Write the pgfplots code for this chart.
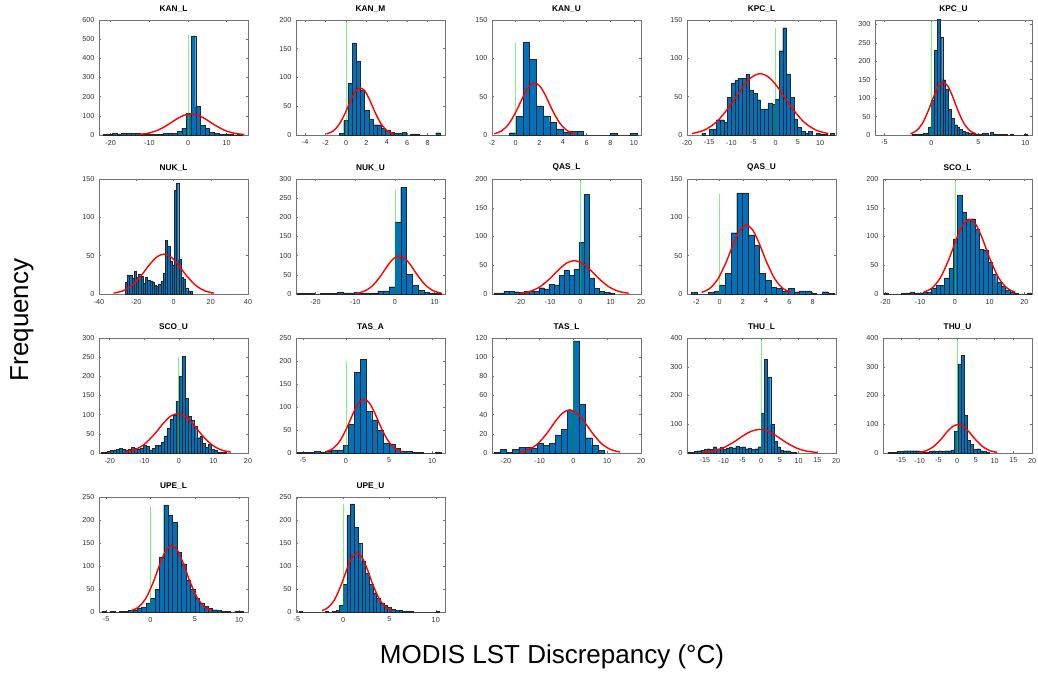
\documentclass[border=0pt]{standalone}
\usepackage{pgfplots}
\pgfplotsset{compat=1.18}
\usepackage{fontspec}
\setmainfont{Liberation Sans}
\definecolor{mblue}{RGB}{0,114,189}
\pgfplotsset{
  hist/.style={
    width=149pt, height=115pt, scale only axis, anchor=south west,
    ymin=0, enlargelimits=false,
    tick align=inside, xtick pos=both, ytick pos=both,
    major tick length=2pt,
    axis line style={black!55, line width=0.5pt},
    every tick/.style={black!55, line width=0.5pt},
    ticklabel style={font=\fontsize{7.2}{8}\selectfont, text=black!80},
    xticklabel style={yshift=-1.5pt},
    yticklabel style={xshift=-1pt},
    /pgf/number format/assume math mode=true,
    scaled ticks=false,
    title style={font=\fontsize{8.3}{9}\selectfont\bfseries, inner sep=1.5pt},
  },
  bars/.style={ybar interval, fill=mblue, draw=black!85, line width=0.3pt},
  fit/.style={red, line width=1.4pt, smooth},
  zero/.style={draw={rgb,255:red,0;green,230;blue,0}, opacity=0.5, line width=0.8pt},
}
\begin{document}
\begin{tikzpicture}
\path[use as bounding box] (0pt,0pt) rectangle (1038pt,-674pt);

% row 1
\begin{axis}[hist, at={(99pt,-135pt)}, title={KAN\_L}, xmin=-23, xmax=15.5, ymax=600,
  xtick={-20,-10,0,10}, ytick={0,100,...,600}]
\addplot[bars] coordinates {(-22.02,3)(-20.82,5)(-19.62,10)(-18.42,5)(-17.22,10)(-16.02,8)(-14.82,8)(-13.62,8)(-12.42,3)(-11.22,2)(-10.02,2)(-8.82,3)(-7.62,5)(-6.42,8)(-5.22,8)(-4.02,8)(-2.82,18)(-1.62,35)(-0.42,115)(0.78,517)(1.98,150)(3.18,50)(4.38,35)(5.58,15)(6.78,10)(7.98,5)(9.18,3)(10.38,2)(11.58,1)(12.78,3)(13.98,0)};
\addplot[zero] coordinates {(0,0)(0,520)};
\addplot[fit] coordinates {(-12.95,2.5)(-10.45,8.8)(-7.95,23.8)(-5.45,50.4)(-2.95,83.0)(-1.075,102.5)(0.8,110)(2.675,102.5)(4.55,83.0)(7.05,50.4)(9.55,23.8)(12.05,8.8)(14.55,2.5)};
\end{axis}

\begin{axis}[hist, at={(296pt,-135pt)}, title={KAN\_M}, xmin=-4.9, xmax=9.7, ymax=200,
  xtick={-4,-2,...,8}, ytick={0,50,...,200}]
\addplot[bars] coordinates {(-0.64,3)(-0.23,25)(0.18,90)(0.59,160)(1.00,128)(1.41,78)(1.82,43)(2.23,28)(2.64,18)(3.05,18)(3.46,12)(3.87,8)(4.28,5)(4.69,3)(5.10,3)(5.51,5)(5.92,0)(6.33,2)(6.74,2)(7.15,0)(7.56,0)(7.97,0)(8.38,0)(8.79,4)(9.20,0)};
\addplot[zero] coordinates {(0,0)(0,200)};
\addplot[fit] coordinates {(-1.9,1.9)(-1.3,6.5)(-0.7,17.7)(-0.1,37.5)(0.5,61.9)(0.95,76.4)(1.4,82)(1.85,76.4)(2.3,61.9)(2.9,37.5)(3.5,17.7)(4.1,6.5)(4.7,1.9)};
\end{axis}

\begin{axis}[hist, at={(492pt,-135pt)}, title={KAN\_U}, xmin=-2, xmax=10.6, ymax=150,
  xtick={-2,0,...,10}, ytick={0,50,100,150}]
\addplot[bars] coordinates {(-0.53,3)(0.03,24)(0.60,121)(1.17,99)(1.74,38)(2.31,25)(2.88,17)(3.45,8)(4.02,4)(4.59,5)(5.16,5)(5.73,0)(6.30,0)(6.87,0)(7.44,0)(8.01,2)(8.58,0)(9.15,0)(9.72,2)(10.29,0)};
\addplot[zero] coordinates {(0,0)(0,120)};
\addplot[fit] coordinates {(-1.81,1.55)(-1.19,5.4)(-0.57,14.7)(0.05,31.1)(0.67,51.3)(1.135,63.4)(1.6,68)(2.065,63.4)(2.53,51.3)(3.15,31.1)(3.77,14.7)(4.39,5.4)(5.01,1.55)};
\end{axis}

\begin{axis}[hist, at={(687pt,-135pt)}, title={KPC\_L}, xmin=-20, xmax=13.6, ymax=150,
  xtick={-20,-15,...,10}, ytick={0,50,100,150}]
\addplot[bars] coordinates {(-16.68,2)(-15.85,0)(-15.02,8)(-14.19,8)(-13.36,20)(-12.53,20)(-11.70,17)(-10.87,49)(-10.04,68)(-9.21,72)(-8.38,74)(-7.55,74)(-6.72,79)(-5.89,58)(-5.06,54)(-4.23,46)(-3.40,34)(-2.57,34)(-1.74,42)(-0.91,40)(-0.08,47)(0.75,110)(1.58,140)(2.41,79)(3.24,49)(4.07,21)(4.90,10)(5.73,5)(6.56,2)(7.39,5)(8.22,0)(9.05,2)(9.88,1)(10.71,1)(11.54,0)(12.37,2)(13.20,0)};
\addplot[zero] coordinates {(0,0)(0,140)};
\addplot[fit] coordinates {(-18.9,1.8)(-16.1,6.4)(-13.3,17.3)(-10.5,36.6)(-7.7,60.4)(-5.6,74.6)(-3.5,80)(-1.4,74.6)(0.7,60.4)(3.5,36.6)(6.3,17.3)(9.1,6.4)(11.9,1.8)};
\end{axis}

\begin{axis}[hist, at={(875pt,-135pt)}, width=157pt, title={KPC\_U}, xmin=-6, xmax=10.7, ymax=312,
  xtick={-5,0,5,10}, ytick={0,50,...,300}]
\addplot[bars] coordinates {(-2.1,1)(-1.8,2)(-1.5,3)(-1.2,3)(-0.9,4)(-0.6,5)(-0.3,22)(0,95)(0.3,230)(0.6,315)(0.9,265)(1.2,150)(1.5,125)(1.8,70)(2.1,45)(2.4,28)(2.7,22)(3.0,15)(3.3,10)(3.6,8)(3.9,6)(4.2,5)(4.5,3)(4.8,3)(5.1,2)(5.4,5)(5.7,5)(6.0,0)(6.3,8)(6.6,3)(6.9,2)(7.2,2)(7.5,2)(7.8,1)(8.1,0)(8.4,3)(8.7,0)(9.0,0)(9.3,0)(9.6,0)(9.9,2)(10.2,0)};
\addplot[zero] coordinates {(0,0)(0,312)};
\addplot[fit] coordinates {(-2.24,3.3)(-1.61,11.4)(-0.97,30.9)(-0.34,65.5)(0.30,107.9)(0.77,133.3)(1.25,143)(1.73,133.3)(2.20,107.9)(2.84,65.5)(3.47,30.9)(4.11,11.4)(4.74,3.3)};
\end{axis}

% row 2
\begin{axis}[hist, at={(99pt,-294pt)}, title={NUK\_L}, xmin=-40, xmax=40, ymax=150,
  xtick={-40,-20,...,40}, ytick={0,50,100,150}]
\addplot[bars] coordinates {(-26.0,15)(-24.8,25)(-23.6,24)(-22.4,21)(-21.2,30)(-20.0,22)(-18.8,26)(-17.6,23)(-16.4,14)(-15.2,22)(-14.0,18)(-12.8,17)(-11.6,16)(-10.4,11)(-9.2,10)(-8.0,13)(-6.8,17)(-5.6,27)(-4.4,70)(-3.2,62)(-2.0,43)(-0.8,38)(0.4,135)(1.6,145)(2.8,45)(4.0,22)(5.2,20)(6.4,8)(7.6,4)(8.8,4)(10.0,0)};
\addplot[fit] coordinates {(-32.15,1.2)(-27.25,4.1)(-22.35,11.2)(-17.45,23.8)(-12.55,39.2)(-8.875,48.5)(-5.2,52)(-1.525,48.5)(2.15,39.2)(7.05,23.8)(11.95,11.2)(16.85,4.1)(21.75,1.2)};
\end{axis}

\begin{axis}[hist, at={(296pt,-294pt)}, title={NUK\_U}, xmin=-24.9, xmax=12.6, ymax=300,
  xtick={-20,-10,0,10}, ytick={0,50,...,300}]
\addplot[bars] coordinates {(-24.65,2)(-23.2,2)(-21.75,2)(-20.3,0)(-18.85,2)(-17.4,2)(-15.95,2)(-14.5,5)(-13.05,3)(-11.6,3)(-10.15,4)(-8.7,3)(-7.25,3)(-5.8,3)(-4.35,8)(-2.9,8)(-1.45,19)(0,188)(1.45,278)(2.9,52)(4.35,22)(5.8,10)(7.25,5)(8.7,3)(10.15,1)(11.6,0)};
\addplot[zero] coordinates {(0,0)(0,275)};
\addplot[fit] coordinates {(-9.5,2.3)(-7.59,7.9)(-5.66,21.4)(-3.73,45.3)(-1.8,74.7)(-0.35,92.3)(1.1,99)(2.55,92.3)(4.0,74.7)(5.93,45.3)(7.86,21.4)(9.79,7.9)(11.7,2.3)};
\end{axis}

\begin{axis}[hist, at={(492pt,-294pt)}, title={QAS\_L}, xmin=-29.2, xmax=20, ymax=200,
  xtick={-20,-10,...,20}, ytick={0,50,...,200}]
\addplot[bars] coordinates {(-28.6,2)(-26.95,2)(-25.3,5)(-23.65,5)(-22.0,4)(-20.35,3)(-18.7,5)(-17.05,5)(-15.4,5)(-13.75,11)(-12.1,9)(-10.45,17)(-8.8,16)(-7.15,33)(-5.5,42)(-3.85,32)(-2.2,43)(-0.55,90)(1.1,173)(2.75,28)(4.4,10)(6.05,5)(7.7,3)(9.35,2)(11.0,0)};
\addplot[zero] coordinates {(0,0)(0,200)};
\addplot[fit] coordinates {(-19.9,1.3)(-16.63,4.6)(-13.38,12.5)(-10.13,26.6)(-6.88,43.8)(-4.44,54.1)(-2.0,58)(0.44,54.1)(2.88,43.8)(6.13,26.6)(9.38,12.5)(12.63,4.6)(15.9,1.3)};
\end{axis}

\begin{axis}[hist, at={(687pt,-294pt)}, title={QAS\_U}, xmin=-2.8, xmax=10, ymax=150,
  xtick={-2,0,...,8}, ytick={0,50,100,150}]
\addplot[bars] coordinates {(-2.45,2)(-1.96,0)(-1.47,0)(-0.98,2)(-0.49,4)(0,12)(0.49,27)(0.98,80)(1.47,132)(1.96,132)(2.45,77)(2.94,64)(3.43,27)(3.92,18)(4.41,9)(4.9,7)(5.39,4)(5.88,7)(6.37,3)(6.86,4)(7.35,4)(7.84,1)(8.33,0)(8.82,3)(9.31,1)(9.8,0)};
\addplot[zero] coordinates {(0,0)(0,130)};
\addplot[fit] coordinates {(-1.55,2.1)(-0.85,7.2)(-0.15,19.5)(0.55,41.2)(1.25,67.9)(1.775,83.9)(2.3,90)(2.825,83.9)(3.35,67.9)(4.05,41.2)(4.75,19.5)(5.45,7.2)(6.15,2.1)};
\end{axis}

\begin{axis}[hist, at={(883pt,-294pt)}, title={SCO\_L}, xmin=-20.7, xmax=22.2, ymax=200,
  xtick={-20,-10,...,20}, ytick={0,50,...,200}]
\addplot[bars] coordinates {(-20.48,2)(-19.23,0)(-17.98,0)(-16.73,0)(-15.48,2)(-14.23,2)(-12.98,3)(-11.73,2)(-10.48,2)(-9.23,3)(-7.98,3)(-6.73,10)(-5.48,15)(-4.23,15)(-2.98,28)(-1.73,45)(-0.48,96)(0.77,172)(2.02,143)(3.27,130)(4.52,131)(5.77,113)(7.02,78)(8.27,77)(9.52,55)(10.77,35)(12.02,20)(13.27,13)(14.52,7)(15.77,4)(17.02,2)(18.27,0)(19.52,0)(20.77,2)(22.02,0)};
\addplot[zero] coordinates {(0,0)(0,200)};
\addplot[fit] coordinates {(-9.0,3.0)(-6.6,10.3)(-4.2,28.1)(-1.8,59.5)(0.6,98.1)(2.4,121.2)(4.2,130)(6.0,121.2)(7.8,98.1)(10.2,59.5)(12.6,28.1)(15.0,10.3)(17.4,3.0)};
\end{axis}

% row 3
\begin{axis}[hist, at={(99pt,-453pt)}, title={SCO\_U}, xmin=-23.1, xmax=20, ymax=300,
  xtick={-20,-10,...,20}, ytick={0,50,...,300}]
\addplot[bars] coordinates {(-22.36,1)(-21.5,3)(-20.64,4)(-19.78,7)(-18.92,8)(-18.06,10)(-17.2,12)(-16.34,10)(-15.48,8)(-14.62,10)(-13.76,15)(-12.9,12)(-12.04,10)(-11.18,12)(-10.32,20)(-9.46,18)(-8.6,8)(-7.74,13)(-6.88,20)(-6.02,20)(-5.16,28)(-4.3,45)(-3.44,65)(-2.58,88)(-1.72,100)(-0.86,135)(0,200)(0.86,253)(1.72,142)(2.58,95)(3.44,85)(4.3,70)(5.16,40)(6.02,43)(6.88,25)(7.74,15)(8.6,22)(9.46,10)(10.32,8)(11.18,3)(12.04,2)(12.9,1)(13.76,0)};
\addplot[zero] coordinates {(0,0)(0,250)};
\addplot[fit] coordinates {(-15.59,2.3)(-12.81,8.2)(-10.03,22.3)(-7.25,47.2)(-4.47,77.7)(-2.385,96.0)(-0.3,103)(1.785,96.0)(3.87,77.7)(6.65,47.2)(9.43,22.3)(12.21,8.2)(14.99,2.3)};
\end{axis}

\begin{axis}[hist, at={(296pt,-453pt)}, title={TAS\_A}, xmin=-5.8, xmax=11.5, ymax=250,
  xtick={-5,0,5,10}, ytick={0,50,...,250}]
\addplot[bars] coordinates {(-5.72,1)(-5.05,1)(-4.38,1)(-3.71,3)(-3.04,1)(-2.37,3)(-1.7,7)(-1.03,7)(-0.36,17)(0.31,63)(0.98,175)(1.65,203)(2.32,90)(2.99,72)(3.66,50)(4.33,22)(5.0,20)(5.67,10)(6.34,4)(7.01,3)(7.68,2)(8.35,2)(9.02,0)(9.69,0)(10.36,2)(11.03,0)};
\addplot[zero] coordinates {(0,0)(0,200)};
\addplot[fit] coordinates {(-2.355,2.7)(-1.545,9.3)(-0.735,25.3)(0.075,53.6)(0.885,88.3)(1.4925,109.0)(2.1,117)(2.7075,109.0)(3.315,88.3)(4.125,53.6)(4.935,25.3)(5.745,9.3)(6.555,2.7)};
\end{axis}

\begin{axis}[hist, at={(492pt,-453pt)}, title={TAS\_L}, xmin=-24.1, xmax=20, ymax=120,
  xtick={-20,-10,...,20}, ytick={0,20,...,120}]
\addplot[bars] coordinates {(-23.4,1)(-21.6,4)(-19.8,1)(-18.0,4)(-16.2,6)(-14.4,6)(-12.6,5)(-10.8,10)(-9.0,8)(-7.2,10)(-5.4,19)(-3.6,25)(-1.8,45)(0,117)(1.8,51)(3.6,16)(5.4,8)(7.2,3)(9.0,0)};
\addplot[zero] coordinates {(0,0)(0,117)};
\addplot[fit] coordinates {(-15.95,1.0)(-13.25,3.6)(-10.55,9.7)(-7.85,20.6)(-5.15,34.0)(-3.125,41.9)(-1.1,45)(0.925,41.9)(2.95,34.0)(5.65,20.6)(8.35,9.7)(11.05,3.6)(13.75,1.0)};
\end{axis}

\begin{axis}[hist, at={(687pt,-453pt)}, title={THU\_L}, xmin=-19.8, xmax=20, ymax=400,
  xtick={-15,-10,...,20}, ytick={0,100,...,400}]
\addplot[bars] coordinates {(-19.55,2)(-18.7,3)(-17.85,5)(-17.0,8)(-16.15,10)(-15.3,12)(-14.45,15)(-13.6,12)(-12.75,22)(-11.9,15)(-11.05,20)(-10.2,12)(-9.35,18)(-8.5,20)(-7.65,18)(-6.8,25)(-5.95,20)(-5.1,22)(-4.25,15)(-3.4,18)(-2.55,12)(-1.7,15)(-0.85,22)(0,138)(0.85,325)(1.7,265)(2.55,100)(3.4,40)(4.25,22)(5.1,10)(5.95,8)(6.8,8)(7.65,4)(8.5,3)(9.35,0)};
\addplot[zero] coordinates {(0,0)(0,400)};
\addplot[fit] coordinates {(-15.75,1.9)(-12.96,6.5)(-10.17,17.7)(-7.38,37.5)(-4.59,61.9)(-2.49,76.4)(-0.4,82)(1.69,76.4)(3.79,61.9)(6.58,37.5)(9.37,17.7)(12.16,6.5)(14.95,1.9)};
\end{axis}

\begin{axis}[hist, at={(883pt,-453pt)}, title={THU\_U}, xmin=-19.8, xmax=20, ymax=400,
  xtick={-15,-10,...,20}, ytick={0,100,...,400}]
\addplot[bars] coordinates {(-18.55,2)(-17.7,3)(-16.85,3)(-16.0,5)(-15.15,6)(-14.3,8)(-13.45,8)(-12.6,8)(-11.75,8)(-10.9,8)(-10.05,5)(-9.2,3)(-8.35,3)(-7.5,5)(-6.65,8)(-5.8,6)(-4.95,8)(-4.1,5)(-3.25,8)(-2.4,8)(-1.55,10)(-0.7,77)(0.15,310)(1.0,340)(1.85,130)(2.7,45)(3.55,30)(4.4,12)(5.25,15)(6.1,8)(6.95,5)(7.8,2)(8.65,0)};
\addplot[zero] coordinates {(0,0)(0,400)};
\addplot[fit] coordinates {(-10.2,2.3)(-8.3,7.9)(-6.4,21.4)(-4.5,45.3)(-2.6,74.7)(-1.175,92.3)(0.25,99)(1.675,92.3)(3.1,74.7)(5.0,45.3)(6.9,21.4)(8.8,7.9)(10.7,2.3)};
\end{axis}

% row 4
\begin{axis}[hist, at={(99pt,-612pt)}, title={UPE\_L}, xmin=-5.8, xmax=11, ymax=250,
  xtick={-5,0,5,10}, ytick={0,50,...,250}]
\addplot[bars] coordinates {(-5.5,2)(-5,0)(-4.5,2)(-4,0)(-3.5,2)(-3,2)(-2.5,3)(-2,5)(-1.5,8)(-1,10)(-0.5,20)(0,30)(0.5,50)(1,120)(1.5,233)(2,210)(2.5,195)(3,130)(3.5,105)(4,70)(4.5,50)(5,30)(5.5,20)(6,12)(6.5,8)(7,5)(7.5,3)(8,2)(8.5,2)(9,0)(9.5,2)(10,1)(10.5,0)};
\addplot[zero] coordinates {(0,0)(0,230)};
\addplot[fit] coordinates {(-2.11,3.3)(-1.29,11.5)(-0.47,31.4)(0.35,66.4)(1.17,109.4)(1.785,135.1)(2.4,145)(3.015,135.1)(3.63,109.4)(4.45,66.4)(5.27,31.4)(6.09,11.5)(6.91,3.3)};
\end{axis}

\begin{axis}[hist, at={(296pt,-612pt)}, title={UPE\_U}, xmin=-5.1, xmax=11, ymax=250,
  xtick={-5,0,5,10}, ytick={0,50,...,250}]
\addplot[bars] coordinates {(-4.8,1)(-4.4,0)(-2.0,1)(-1.6,0)(-1.2,2)(-0.8,3)(-0.4,15)(0,60)(0.4,210)(0.8,235)(1.2,185)(1.6,150)(2.0,110)(2.4,85)(2.8,60)(3.2,42)(3.6,30)(4.0,20)(4.4,14)(4.8,10)(5.2,6)(5.6,4)(6.0,3)(6.4,2)(6.8,1)(7.2,1)(7.6,0)(10.0,1)(10.4,0)};
\addplot[zero] coordinates {(0,0)(0,235)};
\addplot[fit] coordinates {(-2.295,2.9)(-1.605,10.2)(-0.915,27.7)(-0.225,58.6)(0.465,96.6)(0.9825,119.3)(1.5,128)(2.0175,119.3)(2.535,96.6)(3.225,58.6)(3.915,27.7)(4.605,10.2)(5.295,2.9)};
\end{axis}

\node[rotate=90, font=\fontsize{26}{30}\selectfont] at (22pt,-320pt) {Frequency};
\node[font=\fontsize{26}{30}\selectfont] at (552pt,-657pt) {MODIS LST Discrepancy (°C)};
\end{tikzpicture}
\end{document}
